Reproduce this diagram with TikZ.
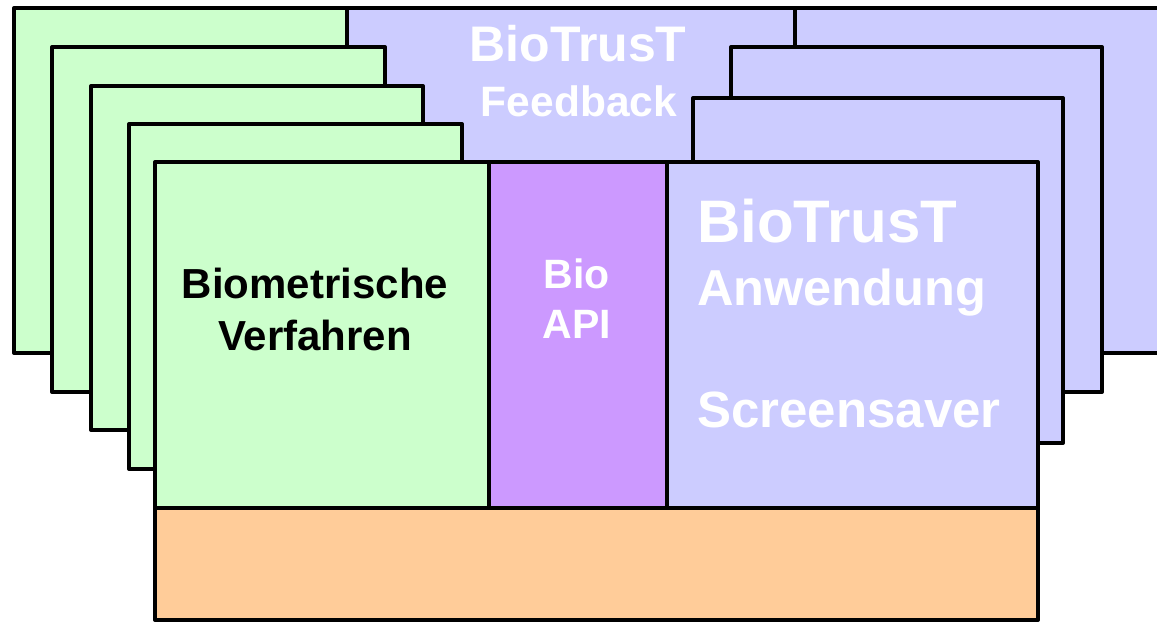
\documentclass[tikz,border=0pt]{standalone}
\usepackage{fontspec}
\setmainfont{Liberation Sans}
\definecolor{gr}{HTML}{CCFFCC}
\definecolor{lv}{HTML}{CCCCFF}
\definecolor{pu}{HTML}{CC99FF}
\definecolor{og}{HTML}{FFCC99}
\tikzset{
  box/.style={draw=black, line width=4pt, line join=round},
  wtxt/.style={text=white, inner sep=0pt, font=\bfseries\fontsize{#1}{#1}\selectfont},
  btxt/.style={text=black, inner sep=0pt, font=\bfseries\fontsize{#1}{#1}\selectfont}
}
\begin{document}
\begin{tikzpicture}[x={(1pt,0)}, y={(0,-1pt)}]
\clip (0,0) rectangle (1157,623);
% back right
\draw[box, fill=lv] (347,8) rectangle (795,250);
\draw[box, fill=lv] (795,8) rectangle (1175,353);
\draw[box, fill=lv] (731,47) rectangle (1102,392);
\draw[box, fill=lv] (693,98) rectangle (1063,443);
% back left
\draw[box, fill=gr] (14,8) rectangle (347,353);
\draw[box, fill=gr] (52,47) rectangle (385,392);
\draw[box, fill=gr] (91,86) rectangle (423,430);
\draw[box, fill=gr] (129,124) rectangle (462,469);
% main row
\draw[box, fill=gr] (155,162) rectangle (489,508);
\draw[box, fill=pu] (489,162) rectangle (667,508);
\draw[box, fill=lv] (667,162) rectangle (1038,508);
\draw[box, fill=og] (155,508) rectangle (1038,620);
% texts
\node[wtxt=50, anchor=base] (fb1) at (578,62) {BioTrusT};
\node[wtxt=42.5, anchor=base] (fb2) at (579,117) {Feedback};
\node[btxt=42, anchor=base] (bv1) at (315,298) {Biometrische};
\node[btxt=42, anchor=base] (bv2) at (315,350) {Verfahren};
\node[wtxt=41, anchor=base] (api1) at (577,288) {Bio};
\node[wtxt=41, anchor=base] (api2) at (577,338) {API};
\node[wtxt=60, anchor=base west] (an1) at (697,242) {BioTrusT};
\node[wtxt=50.5, anchor=base west] (an2) at (697,305) {Anwendung};
\node[wtxt=51, anchor=base west] (an3) at (697,427) {Screensaver};
\end{tikzpicture}
\end{document}
